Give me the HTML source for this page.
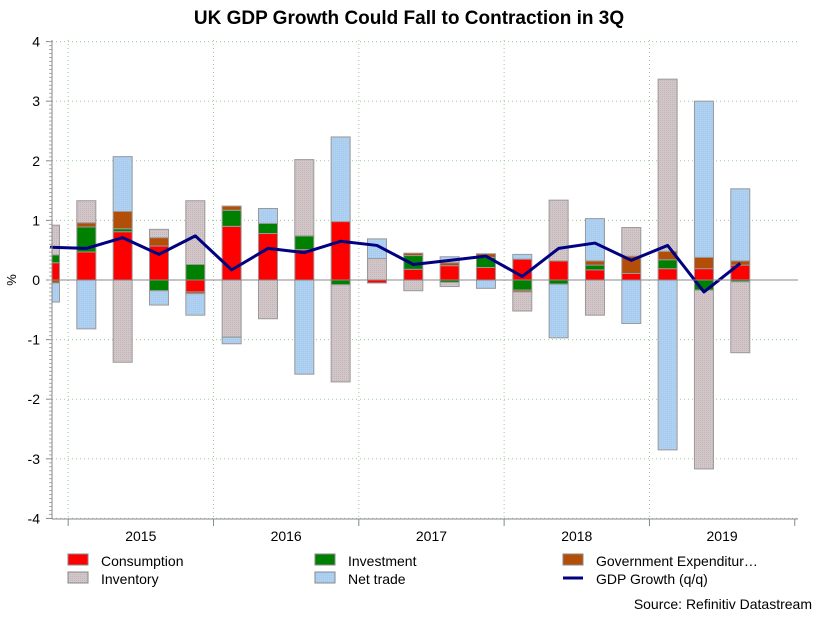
<!DOCTYPE html>
<html><head><meta charset="utf-8"><style>
body{margin:0;background:#fff;font-family:"Liberation Sans",Arial,sans-serif;}
svg{display:block}
</style></head><body>
<svg id="chart" width="818" height="621" font-family="Liberation Sans, Arial, sans-serif">
<defs>
<pattern id="pInv" width="2" height="2" patternUnits="userSpaceOnUse"><rect width="2" height="2" fill="#d6c4cc"/><rect width="1" height="1" fill="#b8bdb0"/></pattern>
<pattern id="pNet" width="2" height="2" patternUnits="userSpaceOnUse"><rect width="2" height="2" fill="#a8cdf0"/><rect width="1" height="1" fill="#b8d4ee"/></pattern>
<pattern id="pGov" width="2" height="2" patternUnits="userSpaceOnUse"><rect width="2" height="2" fill="#c04a00"/><rect width="1" height="1" fill="#8a5a20"/></pattern>
<clipPath id="plotClip"><rect x="52" y="30" width="746" height="490"/></clipPath>
</defs>
<text x="409" y="24" text-anchor="middle" font-size="19" font-weight="bold">UK GDP Growth Could Fall to Contraction in 3Q</text>
<text transform="translate(16,280) rotate(-90)" text-anchor="middle" font-size="13">%</text>
<g id="grid"></g>
<g id="bars" clip-path="url(#plotClip)"></g>
<g id="line"></g>
<g id="axes"></g>
<g id="legend" font-size="14">
<rect x="68" y="554" width="20" height="11" fill="#ff0000" stroke="#888"/>
<text x="101" y="566">Consumption</text>
<rect x="315" y="554" width="20" height="11" fill="#008000" stroke="#888"/>
<text x="348" y="566">Investment</text>
<rect x="563" y="554" width="20" height="11" fill="url(#pGov)" stroke="#888"/>
<text x="596" y="566">Government Expenditur…</text>
<rect x="68" y="572" width="20" height="11" fill="url(#pInv)" stroke="#888"/>
<text x="101" y="584">Inventory</text>
<rect x="315" y="572" width="20" height="11" fill="url(#pNet)" stroke="#888"/>
<text x="348" y="584">Net trade</text>
<line x1="563" y1="578" x2="583" y2="578" stroke="#000080" stroke-width="3"/>
<text x="596" y="584">GDP Growth (q/q)</text>
</g>
<text x="812" y="609" text-anchor="end" font-size="14">Source: Refinitiv Datastream</text>
</svg>
<script>
const quarters=["2014Q4","2015Q1","2015Q2","2015Q3","2015Q4","2016Q1","2016Q2","2016Q3","2016Q4","2017Q1","2017Q2","2017Q3","2017Q4","2018Q1","2018Q2","2018Q3","2018Q4","2019Q1","2019Q2","2019Q3"];
const consumption=[0.29,0.47,0.81,0.57,-0.2,0.9,0.78,0.51,0.98,-0.05,0.18,0.24,0.21,0.35,0.32,0.17,0.11,0.19,0.19,0.25];
const investment=[0.13,0.42,0.05,-0.18,0.26,0.27,0.17,0.23,-0.08,0,0.23,-0.04,0.17,-0.17,-0.07,0.08,0,0.15,-0.17,-0.03];
const government=[-0.05,0.07,0.29,0.14,-0.03,0.07,0,0,0,0,0.04,0.05,0.06,-0.03,0,0.07,0.29,0.14,0.19,0.07];
const inventory=[0.5,0.37,-1.38,0.14,1.07,-0.96,-0.65,1.28,-1.63,0.36,-0.18,-0.07,0,-0.32,1.02,-0.59,0.48,2.89,-3.0,-1.19];
const netTrade=[-0.32,-0.82,0.92,-0.24,-0.36,-0.11,0.25,-1.58,1.42,0.33,0,0.1,-0.14,0.08,-0.9,0.71,-0.73,-2.85,2.62,1.21];
const gdp=[0.55,0.53,0.71,0.43,0.74,0.17,0.53,0.46,0.65,0.58,0.26,0.33,0.4,0.06,0.53,0.62,0.33,0.58,-0.2,0.28];
const yTicks=[-4,-3,-2,-1,0,1,2,3,4];
const yearLabels=["2015","2016","2017","2018","2019"];

const NS="http://www.w3.org/2000/svg";
const y0=280, unit=59.6, x0=50, step=36.33, bw=19;
const yScale=v=>y0-v*unit;
const xScale=i=>x0+i*step;
function mk(tag,attrs,parent){const e=document.createElementNS(NS,tag);for(const k in attrs)e.setAttribute(k,attrs[k]);parent.appendChild(e);return e;}
const grid=document.getElementById('grid'),axes=document.getElementById('axes');
yTicks.forEach(t=>{
  const y=yScale(t);
  if(t!==0){const g=mk('line',{x1:52,x2:798,y1:y,y2:y,stroke:'#9c9',"stroke-dasharray":'1,3'},grid);
  
  }
  const tk=mk('line',{x1:46,x2:52,y1:y,y2:y,stroke:'#888'},axes);
  
  
  const tx=mk('text',{x:40,y:y+5,"text-anchor":'end',"font-size":14},axes);
  tx.textContent=t;
  
  
});
for(let i=0;i<120;i++){const m=mk('line',{x1:49,x2:52,y1:y0-4*unit+i*unit/15,y2:y0-4*unit+i*unit/15,stroke:'#aaa'},axes);

}
yearLabels.forEach((lab,k)=>{
  const xb=xScale(0.5+4*k);
  const g=mk('line',{x1:xb,x2:xb,y1:40,y2:519,stroke:'#9c9',"stroke-dasharray":'1,3'},grid);
  
  
  const tk=mk('line',{x1:xb,x2:xb,y1:519,y2:526,stroke:'#888'},axes);
  
  
  const tx=mk('text',{x:xb+2*step,y:541,"text-anchor":'middle',"font-size":14},axes);
  tx.textContent=lab;
  
  
});
{const xb=xScale(0.5+4*5);const tk=mk('line',{x1:xb,x2:xb,y1:519,y2:526,stroke:'#888'},axes);

}
const za=mk('line',{x1:52,x2:798,y1:y0,y2:y0,stroke:'#888'},axes);


const xa=mk('line',{x1:52,x2:798,y1:519,y2:519,stroke:'#888'},axes);


const ya=mk('line',{x1:52,x2:52,y1:40,y2:519,stroke:'#888'},axes);



const series=[["consumption",consumption,"#ff0000"],["investment",investment,"#008000"],["government",government,"url(#pGov)"],["inventory",inventory,"url(#pInv)"],["net-trade",netTrade,"url(#pNet)"]];
const bars=document.getElementById('bars');
quarters.forEach((q,i)=>{
  let pos=0,neg=0;const cx=xScale(i);
  series.forEach(([name,arr,fill])=>{
    const v=arr[i];if(!v)return;
    let a,b;
    if(v>0){a=pos;b=pos+v;pos=b;}else{a=neg;b=neg+v;neg=b;}
    const top=yScale(Math.max(a,b)),h=Math.abs(yScale(a)-yScale(b));
    const r=mk('rect',{x:cx-bw/2,y:top,width:bw,height:h,fill:fill,stroke:'#999',"stroke-width":1},bars);
    
    
  });
});
const pts=gdp.map((v,i)=>xScale(i)+','+yScale(v)).join(' ');
const pl=mk('polyline',{points:pts,fill:'none',stroke:'#000080',"stroke-width":3,"stroke-linejoin":'round'},document.getElementById('line'));


</script>
</body></html>
